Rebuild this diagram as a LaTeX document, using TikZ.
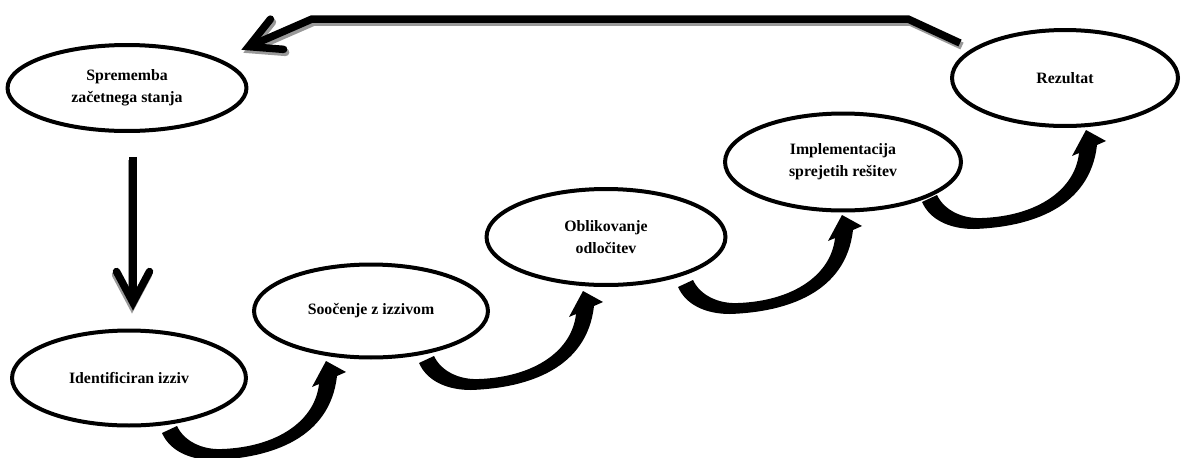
\documentclass[tikz,border=0pt]{standalone}
\usepackage{fontspec}
\setmainfont{Liberation Serif}
\usetikzlibrary{arrows.meta}
\usetikzlibrary{shapes.geometric}

\tikzset{
  stage/.style={draw, ellipse, fill=white, line width=0.08cm, minimum width=4.72cm,
    minimum height=1.9cm, inner sep=0pt, align=center,
    font=\bfseries\fontsize{9}{12.5}\selectfont},
  heavy/.style={line width=0.15cm,
    -{Straight Barb[length=0.62cm, width=0.66cm, line cap=round, line join=miter]}},
  heavyshade/.style={heavy, draw=black!40},
}

\begin{document}
\begin{tikzpicture}[x=0.02cm, y=-0.02cm]
    \useasboundingbox (0,0) rectangle (1182,457);

    % stages
    \node[stage, minimum width=4.78cm, minimum height=1.72cm] (sprem) at (127,88) {Sprememba\\začetnega stanja};
    \node[stage, minimum width=4.68cm] (ident) at (129,378) {Identificiran izziv};
    \node[stage, minimum width=4.68cm, minimum height=1.86cm] (sooc) at (371,311) {Soočenje z izzivom};
    \node[stage, minimum width=4.78cm, minimum height=1.92cm] (oblik) at (606,237) {Oblikovanje\\odločitev};
    \node[stage, minimum height=1.94cm] (impl) at (843,162) {Implementacija\\sprejetih rešitev};
    \node[stage, minimum width=4.52cm, minimum height=1.92cm] (rezult) at (1065,78) {Rezultat};

    % down arrow
    \draw[heavyshade, transform canvas={shift={(-1,3)}}] ([shift={(6,24)}]sprem.south) -- ([shift={(4,-18)}]ident.north);
    \draw[heavy] ([shift={(6,24)}]sprem.south) -- ([shift={(4,-18)}]ident.north);

    % feedback
    \coordinate (fbstart) at ([shift={(-105,-35)}]rezult.center);
    \coordinate (fbturn) at (908,19);
    \coordinate (fbleft) at (312,19);
    \draw[heavyshade, transform canvas={shift={(2,3)}}, shorten >=0.62cm] (fbstart) -- (fbturn) -- (fbleft) -- ([shift={(0,6)}]sprem.north east);
    \draw[heavy, shorten >=0.62cm] (fbstart) -- (fbturn) -- (fbleft) -- ([shift={(0,6)}]sprem.north east);

    % curved steps
    \foreach \a/\dx/\dy in {ident/33/55, sooc/48/52, oblik/72/50, impl/79/40} {
        \coordinate (bend) at ([shift={(\dx,\dy)}]\a.center);
        \fill[shift={(bend)}] (0,0) .. controls (8,18) and (28,27) .. (52,27)
            .. controls (110,25) and (168,5) .. (175,-57) -- (184,-61) -- (164,-72)
            -- (150,-46) -- (157,-49) .. controls (153,-12) and (115,14) .. (60,16)
            .. controls (40,17) and (22,8) .. (15,-7) -- cycle;
    }
\end{tikzpicture}
\end{document}
